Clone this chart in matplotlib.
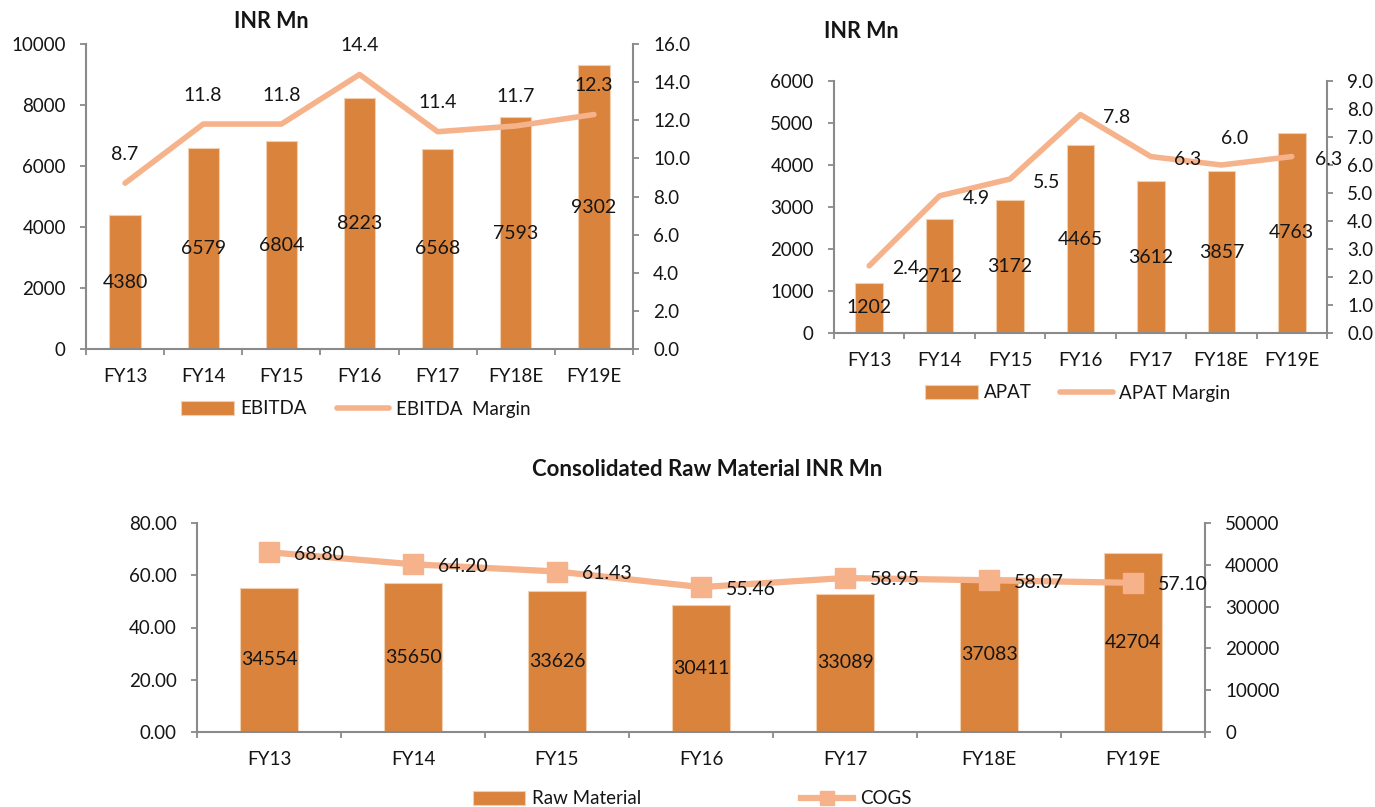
import numpy as np
import matplotlib
matplotlib.use("Agg")
import matplotlib.pyplot as plt
from matplotlib.ticker import FormatStrFormatter, MultipleLocator

# ---- data -------------------------------------------------------------
years = ["FY13", "FY14", "FY15", "FY16", "FY17", "FY18E", "FY19E"]

ebitda = [4380, 6579, 6804, 8223, 6568, 7593, 9302]
ebitda_margin = [8.7, 11.8, 11.8, 14.4, 11.4, 11.7, 12.3]

apat = [1202, 2712, 3172, 4465, 3612, 3857, 4763]
apat_margin = [2.4, 4.9, 5.5, 7.8, 6.3, 6.0, 6.3]

raw_material = [34554, 35650, 33626, 30411, 33089, 37083, 42704]
cogs = [68.80, 64.20, 61.43, 55.46, 58.95, 58.07, 57.10]

# ---- style ------------------------------------------------------------
BAR = "#DA833C"
BAR_EDGE = "#F2CFAE"
LINE = "#F6B28A"
AXIS = "#8A8A8A"
INK = "#151515"

plt.rcParams["font.family"] = ["Lato", "DejaVu Sans"]
plt.rcParams["font.size"] = 13
plt.rcParams["text.color"] = INK

W, H = 1375, 807
fig = plt.figure(figsize=(W / 100, H / 100), dpi=100)


def px_rect(left, top, right, bottom):
    return [left / W, 1 - bottom / H, (right - left) / W, (bottom - top) / H]


def frame(ax, ax2, n):
    """Category axis with boundary ticks, two value axes."""
    for s in ("top", "right"):
        ax.spines[s].set_visible(False)
    for s in ("top", "left", "bottom"):
        ax2.spines[s].set_visible(False)
    for sp in (ax.spines["left"], ax.spines["bottom"], ax2.spines["right"]):
        sp.set_color(AXIS)
        sp.set_linewidth(1.5)
    ax.set_xlim(-0.5, n - 0.5)
    ax.set_xticks(np.arange(n + 1) - 0.5)
    ax.set_xticklabels([])
    ax.set_xticks(np.arange(n), minor=True)
    ax.set_xticklabels(years, minor=True)
    ax.tick_params(axis="x", which="major", length=4.5, width=1.3,
                   color=AXIS, direction="out")
    ax.tick_params(axis="x", which="minor", length=0, pad=14,
                   labelsize=13.5, labelcolor=INK)
    for a in (ax, ax2):
        a.tick_params(axis="y", length=4.5, width=1.3, color=AXIS,
                      pad=10, labelsize=13.5, labelcolor=INK)


def legend(handles, labels, cx, cy, spacing):
    leg = fig.legend(handles, labels, loc="center",
                     bbox_to_anchor=(cx / W, 1 - cy / H),
                     bbox_transform=fig.transFigure, ncol=2, frameon=False,
                     handlelength=2.8, handletextpad=0.35,
                     columnspacing=spacing, fontsize=13.5, numpoints=1)
    return leg


x = np.arange(len(years))

# ---- EBITDA -----------------------------------------------------------
ax = fig.add_axes(px_rect(86, 44, 633, 349))
ax2 = ax.twinx()
bars = ax.bar(x, ebitda, width=0.40, color=BAR, edgecolor=BAR_EDGE,
              linewidth=0.8, zorder=2)
line, = ax2.plot(x, ebitda_margin, color=LINE, lw=4, solid_capstyle="round",
                 solid_joinstyle="round", zorder=3)
ax.set_ylim(0, 10000)
ax.yaxis.set_major_locator(MultipleLocator(2000))
ax2.set_ylim(0, 16)
ax2.yaxis.set_major_locator(MultipleLocator(2))
ax2.yaxis.set_major_formatter(FormatStrFormatter("%.1f"))
frame(ax, ax2, len(years))
for xi, v in zip(x, ebitda):
    ax2.annotate(f"{v}", (xi, v / 10000 * 16 / 2), ha="center", va="center",
                 fontsize=14, zorder=5)
for xi, v in zip(x, ebitda_margin):
    ax2.annotate(f"{v:.1f}", (xi, v), xytext=(0, 29),
                 textcoords="offset pixels", ha="center", va="center",
                 fontsize=14, zorder=5)
fig.text(271 / W, 1 - 21 / H, "INR Mn", ha="center", va="center",
         fontsize=15.5, fontweight="bold")
legend([bars, line], ["EBITDA", "EBITDA  Margin"], 356, 409, 1.6)

# ---- APAT -------------------------------------------------------------
ax = fig.add_axes(px_rect(834, 81, 1327, 333))
ax2 = ax.twinx()
bars = ax.bar(x, apat, width=0.39, color=BAR, edgecolor=BAR_EDGE,
              linewidth=0.8, zorder=2)
line, = ax2.plot(x, apat_margin, color=LINE, lw=4, solid_capstyle="round",
                 solid_joinstyle="round", zorder=3)
ax.set_ylim(0, 6000)
ax.yaxis.set_major_locator(MultipleLocator(1000))
ax2.set_ylim(0, 9)
ax2.yaxis.set_major_locator(MultipleLocator(1))
ax2.yaxis.set_major_formatter(FormatStrFormatter("%.1f"))
frame(ax, ax2, len(years))
for xi, v in zip(x, apat):
    ax2.annotate(f"{v}", (xi, v / 6000 * 9 / 2), ha="center", va="center",
                 fontsize=14, zorder=5)
for i, (xi, v) in enumerate(zip(x, apat_margin)):
    if years[i] == "FY18E":
        off, ha = (13, 27), "center"
    else:
        off, ha = (23, -3), "left"
    ax2.annotate(f"{v:.1f}", (xi, v), xytext=off, textcoords="offset pixels",
                 ha=ha, va="center", fontsize=14, zorder=5)
fig.text(861 / W, 1 - 32 / H, "INR Mn", ha="center", va="center",
         fontsize=15.5, fontweight="bold")
legend([bars, line], ["APAT", "APAT Margin"], 1078, 393, 1.5)

# ---- Raw material -----------------------------------------------------
ax = fig.add_axes(px_rect(197, 523, 1205, 732))
ax2 = ax.twinx()
ax.set_zorder(ax2.get_zorder() + 1)
ax.patch.set_visible(False)
bars = ax2.bar(x, raw_material, width=0.40, color=BAR, edgecolor=BAR_EDGE,
               linewidth=0.8, zorder=2)
line, = ax.plot(x, cogs, color=LINE, lw=4.5, marker="s", markersize=14.5,
                markerfacecolor=LINE, markeredgecolor=LINE, zorder=3)
ax.set_ylim(0, 80)
ax.yaxis.set_major_locator(MultipleLocator(20))
ax.yaxis.set_major_formatter(FormatStrFormatter("%.2f"))
ax2.set_ylim(0, 50000)
ax2.yaxis.set_major_locator(MultipleLocator(10000))
frame(ax, ax2, len(years))
for xi, v in zip(x, raw_material):
    ax.annotate(f"{v}", (xi, v / 50000 * 80 / 2), ha="center", va="center",
                fontsize=14, zorder=5)
for xi, v in zip(x, cogs):
    ax.annotate(f"{v:.2f}", (xi, v), xytext=(25, -2),
                textcoords="offset pixels", ha="left", va="center",
                fontsize=14, zorder=5)
fig.text(707 / W, 1 - 470 / H, "Consolidated Raw Material INR Mn",
         ha="center", va="center", fontsize=16, fontweight="bold")
leg = legend([bars, line], ["Raw Material", "COGS"], 692, 799, 8.5)
leg.legend_handles[1].set_markersize(10)

fig.savefig("out.png", dpi=100, facecolor="white")
